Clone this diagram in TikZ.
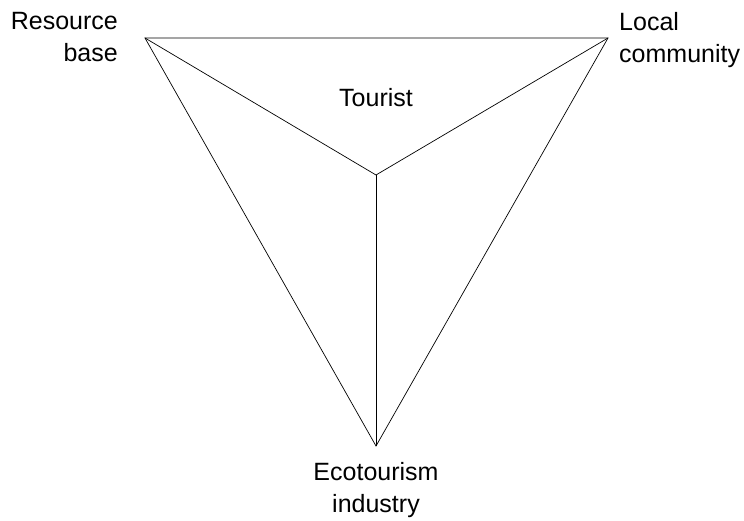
\documentclass[tikz,border=0pt]{standalone}
\usepackage{fontspec}
\setmainfont{Liberation Sans}
\usetikzlibrary{positioning}
\tikzstyle{corner} = [coordinate]
\tikzstyle{tag} = [inner sep=0pt, font=\fontsize{25}{32}\selectfont]
\tikzstyle{edge} = [draw, line width=0.7pt]
\begin{document}
\begin{tikzpicture}[x=1pt,y=-1pt]
	\useasboundingbox (0,0) rectangle (744,521);
	% corners of the triangle and its middle point
	\node [corner] (rb) at (145,38) {};
	\node [corner] (lc) at (608,38) {};
	\node [corner] (ei) at (376,446) {};
	\node [corner] (tc) at (376,175) {};

	% the texts round it
	\node [tag,anchor=north east,align=right] (rbtext) at (118,12) {Resource\\base};
	\node [tag,anchor=north west,align=left] (lctext) at (619,12) {Local\\community};
	\node [tag,anchor=north] (tctext) at (376,88) {Tourist};
	\node [tag,anchor=north,align=center] (eitext) at (376,462) {Ecotourism\\industry};

	% outer triangle
	\draw [edge] (rb) -- (lc) -- (ei) -- cycle;
	% spokes to the middle
	\draw [edge] (rb) -- (tc);
	\draw [edge] (lc) -- (tc);
	\draw [edge] (tc) -- (ei);
\end{tikzpicture}
\end{document}
